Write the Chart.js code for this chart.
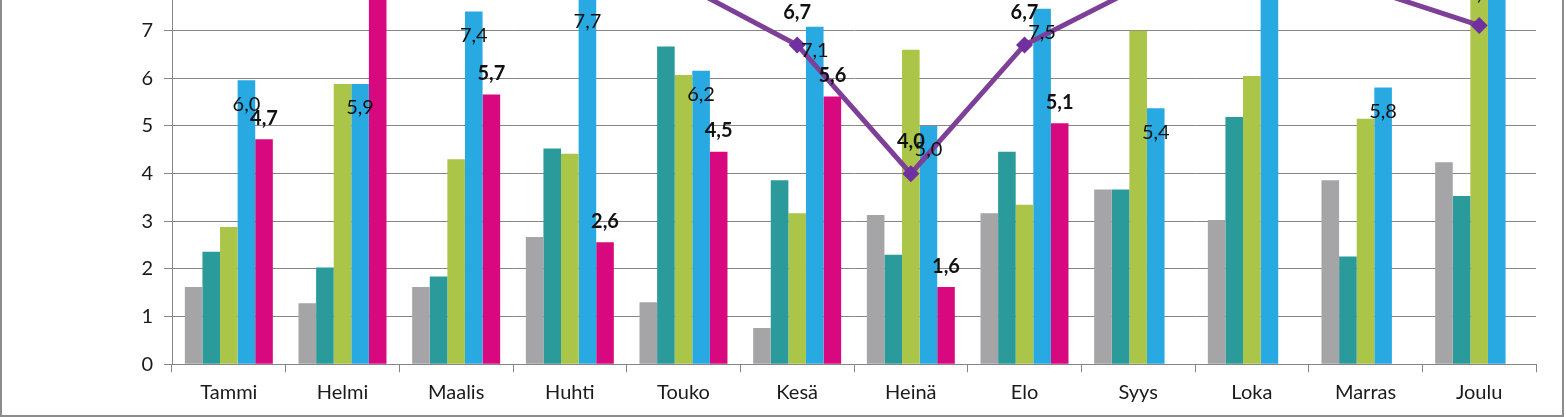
<!DOCTYPE html>
<html>
<head>
<meta charset="utf-8">
<script src="https://cdn.jsdelivr.net/npm/chart.js@4.4.1/dist/chart.umd.min.js"></script>
<style>
  html, body { margin: 0; padding: 0; background: #ffffff; overflow: hidden; }
  body { width: 1566px; height: 417px; position: relative; }
  #frame { position: absolute; left: 0; top: -10px; width: 1560px; height: 425px;
           border: 2px solid #8c8c8c; border-top: none; box-sizing: content-box; }
  #wrap { position: absolute; left: 0; top: -40px; width: 1566px; height: 457px; }
</style>
</head>
<body>
<div id="wrap"><canvas id="c" width="1566" height="457"></canvas></div>
<div id="frame"></div>
<script>
// ---- data ----
const months = ['Tammi', 'Helmi', 'Maalis', 'Huhti', 'Touko', 'Kesä', 'Heinä', 'Elo', 'Syys', 'Loka', 'Marras', 'Joulu'];
const greySeries    = [1.62, 1.28, 1.62, 2.67, 1.30, 0.76, 3.13, 3.17, 3.67, 3.03, 3.86, 4.24];
const tealSeries    = [2.36, 2.03, 1.84, 4.53, 6.67, 3.86, 2.30, 4.46, 3.67, 5.19, 2.26, 3.53];
const greenSeries   = [2.88, 5.88, 4.30, 4.42, 6.07, 3.17, 6.60, 3.35, 7.00, 6.05, 5.15, 8.20];
const blueSeries    = [5.96, 5.88, 7.40, 7.70, 6.16, 7.08, 5.00, 7.46, 5.37, 8.40, 5.81, 8.50];
const magentaSeries = [4.72, 8.30, 5.66, 2.56, 4.46, 5.62, 1.62, 5.06, null, null, null, null];
const purpleLine    = [8.60, 8.90, 8.50, 8.30, 7.96, 6.70, 4.00, 6.70, 7.91, 8.30, 7.89, 7.11];
const seriesNames   = ['Sarja 1', 'Sarja 2', 'Sarja 3', 'Sarja 4', 'Sarja 5', 'Sarja 6'];
const yMin = 0, yMax = 8, yStep = 1;

const FONT = 'Lato, "Open Sans", "Liberation Sans", sans-serif';
const FONT_SIZE = 20;
const fmt = v => v.toFixed(1).replace('.', ',');

const labelPlugin = {
  id: 'valueLabels',
  afterDatasetsDraw(chart) {
    const ctx = chart.ctx;
    const specs = [
      { ds: 3, dy: 24, bold: false },
      { ds: 4, dy: -21, bold: true },
      { ds: 5, dy: -32, bold: true }
    ];
    ctx.save();
    ctx.textAlign = 'center';
    ctx.textBaseline = 'middle';
    ctx.fillStyle = '#111111';
    specs.forEach(s => {
      const meta = chart.getDatasetMeta(s.ds);
      const data = chart.data.datasets[s.ds].data;
      ctx.font = (s.bold ? 'bold ' : '') + FONT_SIZE + 'px ' + FONT;
      meta.data.forEach((el, j) => {
        const v = data[j];
        if (v === null || v === undefined) return;
        ctx.fillText(fmt(v), el.x, el.y + s.dy);
      });
    });
    ctx.restore();
  }
};

const barBase = { barPercentage: 1.0, categoryPercentage: 0.774, borderWidth: 0 };

new Chart(document.getElementById('c'), {
  type: 'bar',
  data: {
    labels: months,
    datasets: [
      Object.assign({ label: seriesNames[0], data: greySeries,    backgroundColor: '#A5A5A8' }, barBase),
      Object.assign({ label: seriesNames[1], data: tealSeries,    backgroundColor: '#2A9B9A' }, barBase),
      Object.assign({ label: seriesNames[2], data: greenSeries,   backgroundColor: '#ABC548' }, barBase),
      Object.assign({ label: seriesNames[3], data: blueSeries,    backgroundColor: '#28A9E2' }, barBase),
      Object.assign({ label: seriesNames[4], data: magentaSeries, backgroundColor: '#D8097E' }, barBase),
      {
        type: 'line', label: seriesNames[5], data: purpleLine, order: -1,
        borderColor: '#7E3F98', borderWidth: 5, tension: 0,
        pointStyle: 'rectRot', pointRadius: 8.5, pointHoverRadius: 8.5,
        pointBackgroundColor: '#7030A0', pointBorderColor: '#7030A0', pointBorderWidth: 0
      }
    ]
  },
  options: {
    responsive: false,
    animation: false,
    devicePixelRatio: 1,
    layout: { padding: { top: 20.3, right: 30, bottom: 0, left: 0 } },
    plugins: { legend: { display: false }, tooltip: { enabled: false } },
    scales: {
      x: {
        offset: true,
        grid: { display: true, drawOnChartArea: false, drawTicks: true, tickLength: 8, color: '#868686', offset: true },
        border: { display: true, color: '#868686', width: 1 },
        ticks: { color: '#1a1a1a', font: { family: FONT, size: FONT_SIZE }, padding: 8, maxRotation: 0 },
        afterFit: s => { s.height = 52.7; }
      },
      y: {
        min: yMin, max: yMax,
        grid: { color: '#868686', lineWidth: 1, tickLength: 8 },
        border: { display: true, color: '#868686', width: 1 },
        ticks: { stepSize: yStep, color: '#1a1a1a', font: { family: FONT, size: FONT_SIZE }, padding: 11 },
        afterFit: s => { s.width = 172; }
      }
    }
  },
  plugins: [labelPlugin]
});
</script>
</body>
</html>
